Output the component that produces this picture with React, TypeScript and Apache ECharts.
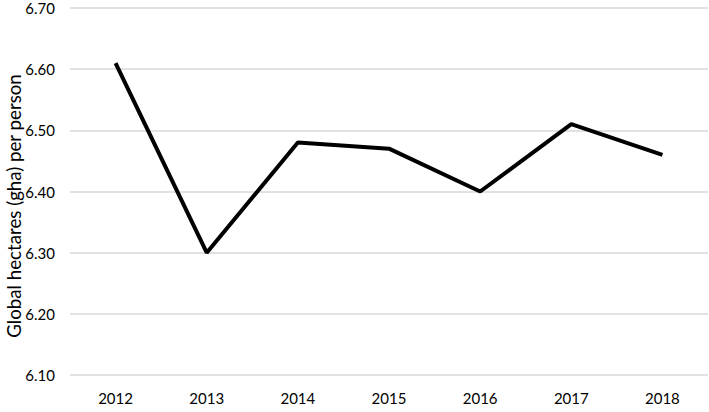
import React, { useEffect, useRef } from "react";
import * as echarts from "echarts";

const years = ["2012", "2013", "2014", "2015", "2016", "2017", "2018"];
const footprint = [6.61, 6.3, 6.48, 6.47, 6.4, 6.51, 6.46];
const yAxisTitle = "Global hectares (gha) per person";

export default function App() {
  const ref = useRef<HTMLDivElement>(null);
  useEffect(() => {
    if (!ref.current) return;
    const chart = echarts.init(ref.current, undefined, { renderer: "svg" });
    chart.setOption({
      animation: false,
      grid: { left: 70, right: 1, top: 8, bottom: 37 },
      graphic: [
        {
          type: "text",
          x: 14,
          y: 206,
          rotation: Math.PI / 2,
          style: {
            text: yAxisTitle,
            fill: "#000",
            fontSize: 18.7,
            fontFamily: "Lato",
            align: "center",
            verticalAlign: "middle",
          },
        },
      ],
      xAxis: {
        type: "category",
        data: years,
        boundaryGap: true,
        axisLine: { show: false },
        axisTick: { show: false },
        axisLabel: { color: "#000", fontSize: 15, fontFamily: "Lato", margin: 15 },
      },
      yAxis: {
        type: "value",
        min: 6.1,
        max: 6.7,
        interval: 0.1,
        axisLine: { show: false },
        axisTick: { show: false },
        axisLabel: {
          color: "#000",
          fontSize: 15,
          fontFamily: "Lato",
          margin: 15,
          padding: [6, 0, 0, 0],
          formatter: (v: number) => v.toFixed(2),
        },
        splitLine: { lineStyle: { color: "#d9d9d9", width: 1.5 } },
      },
      series: [
        {
          type: "line",
          data: footprint,
          symbol: "none",
          lineStyle: { color: "#000", width: 4 },
        },
      ],
    });
    return () => chart.dispose();
  }, []);
  return (
    <div
      ref={ref}
      style={{ position: "absolute", left: 0, top: 0, width: 709, height: 412 }}
    />
  );
}
